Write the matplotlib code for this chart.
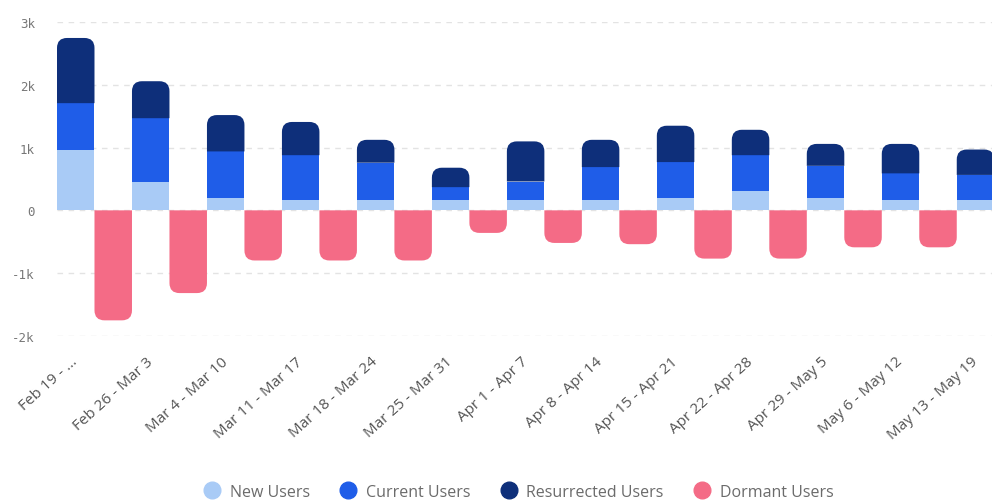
import matplotlib
matplotlib.use("Agg")
import matplotlib.pyplot as plt
import numpy as np
from matplotlib.path import Path
from matplotlib.patches import PathPatch
from matplotlib.lines import Line2D

# ── Data ─────────────────────────────────────────────────────────────────────
weeks = ["Feb 19 - ...", "Feb 26 - Mar 3", "Mar 4 - Mar 10", "Mar 11 - Mar 17",
         "Mar 18 - Mar 24", "Mar 25 - Mar 31", "Apr 1 - Apr 7", "Apr 8 - Apr 14",
         "Apr 15 - Apr 21", "Apr 22 - Apr 28", "Apr 29 - May 5", "May 6 - May 12",
         "May 13 - May 19"]
new_users = [960, 460, 190, 165, 165, 165, 160, 160, 190, 310, 190, 160, 160]
current_users = [750, 1010, 750, 715, 595, 205, 300, 530, 580, 570, 520, 430, 405]
resurrected_users = [1040, 590, 580, 530, 365, 310, 640, 435, 580, 405, 350, 470, 405]
dormant_users = [-1755, -1320, -800, -800, -800, -360, -520, -540, -770, -770,
                 -590, -590, np.nan]   # last week is cut off in the source
y_ticks = [-2000, -1000, 0, 1000, 2000, 3000]
y_labels = ["-2k", "-1k", "0", "1k", "2k", "3k"]

C_NEW = "#a9cbf6"
C_CUR = "#1f5de8"
C_RES = "#0e2f7a"
C_DOR = "#f46b86"
BAR_W = 0.5
RADIUS_PX = 10

plt.rcParams["font.family"] = ["Open Sans", "DejaVu Sans"]

fig = plt.figure(figsize=(9.92, 5.02), dpi=100)
ax = fig.add_axes([57 / 992, (502 - 336.7) / 502, 1 - 57 / 992, (336.7 - 23.3) / 502])
ax.set_xlim(-0.5, 11.97)
ax.set_ylim(-2000, 3000)

# px -> data conversion for the corner radius
pos = ax.get_position()
px_x = pos.width * fig.get_figwidth() * fig.dpi / (ax.get_xlim()[1] - ax.get_xlim()[0])
px_y = pos.height * fig.get_figheight() * fig.dpi / (ax.get_ylim()[1] - ax.get_ylim()[0])
rx, ry = RADIUS_PX / px_x, RADIUS_PX / px_y


def rounded_bar(x, y0, y1, color):
    """Bar from y0 to y1 with the far end (y1) rounded."""
    x0, x1 = x - BAR_W / 2, x + BAR_W / 2
    s = 1 if y1 > y0 else -1
    r_y = min(ry, abs(y1 - y0))
    verts = [(x0, y0), (x0, y1 - s * r_y), (x0, y1), (x0 + rx, y1),
             (x1 - rx, y1), (x1, y1), (x1, y1 - s * r_y), (x1, y0), (x0, y0)]
    codes = [Path.MOVETO, Path.LINETO, Path.CURVE3, Path.CURVE3,
             Path.LINETO, Path.CURVE3, Path.CURVE3, Path.LINETO, Path.CLOSEPOLY]
    ax.add_patch(PathPatch(Path(verts, codes), facecolor=color,
                           edgecolor="none", zorder=3))


x = np.arange(len(weeks))
xp = x - BAR_W / 2
xd = x + BAR_W / 2
new = np.array(new_users)
cur = np.array(current_users)
res = np.array(resurrected_users)

ax.bar(xp, new, width=BAR_W, color=C_NEW, zorder=3)
ax.bar(xp, cur, bottom=new, width=BAR_W, color=C_CUR, zorder=3)
for xi, b, h in zip(xp, new + cur, res):
    rounded_bar(xi, b, b + h, C_RES)
for xi, d in zip(xd, dormant_users):
    if not np.isnan(d):
        rounded_bar(xi, 0, d, C_DOR)

# grid + axes styling
for yv in y_ticks:
    ax.axhline(yv, color="#e3e3e3", lw=1, ls=(0, (4, 4)), zorder=1)
for s in ax.spines.values():
    s.set_visible(False)
ax.set_yticks(y_ticks)
ax.set_yticklabels(y_labels, family="DejaVu Sans Mono", fontsize=9, color="#777777")
ax.tick_params(axis="y", length=0, pad=16)
ax.set_xticks(xp)
ax.set_xticklabels(weeks, rotation=42, ha="right", va="center", rotation_mode="anchor",
                   fontsize=11, color="#555555")
ax.tick_params(axis="x", length=0, pad=17)

# legend
handles = [Line2D([], [], ls="none", marker="o", markersize=12, color=c)
           for c in (C_NEW, C_CUR, C_RES, C_DOR)]
fig.legend(handles, ["New Users", "Current Users", "Resurrected Users", "Dormant Users"],
           loc="center", bbox_to_anchor=(0.523, 0.018), ncol=4, frameon=False,
           fontsize=11.5, labelcolor="#6b6b6b", handletextpad=0.6,
           columnspacing=1.9, handlelength=1.0)

fig.savefig("out.png", dpi=100, facecolor="white")
